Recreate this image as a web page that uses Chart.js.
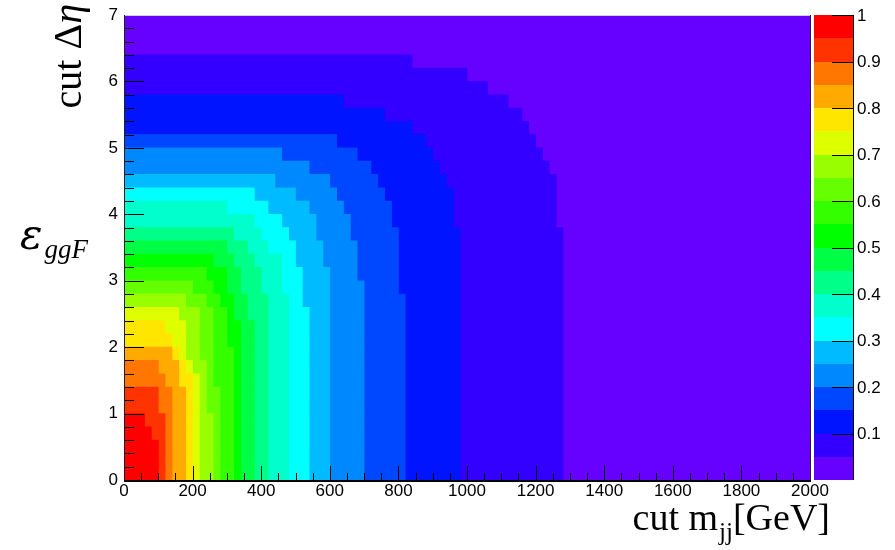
<!DOCTYPE html>
<html>
<head>
<meta charset="utf-8">
<script src="https://cdn.jsdelivr.net/npm/chart.js@4.4.1/dist/chart.umd.min.js"></script>
<style>
  html, body { margin: 0; padding: 0; background: #fff; }
  canvas { display: block; }
</style>
</head>
<body>
<canvas id="effMap" width="895" height="550"></canvas>
<script>
// centre of each cut-Δη bin (bins of 0.2, bottom row first)
const detaRows = [0.1, 0.3, 0.5, 0.7, 0.9, 1.1, 1.3, 1.5, 1.7, 1.9, 2.1, 2.3, 2.5, 2.7, 2.9, 3.1, 3.3, 3.5,
  3.7, 3.9, 4.1, 4.3, 4.5, 4.7, 4.9, 5.1, 5.3, 5.5, 5.7, 5.9, 6.1, 6.3, 6.5, 6.7, 6.9];

// cut m_jj range of the histogram (GeV)
const mjjRange = [0, 2000];

// contour levels of the efficiency and their colours
const zLevels = [0, 0.05, 0.1, 0.15, 0.2, 0.25, 0.3, 0.35, 0.4, 0.45, 0.5,
  0.55, 0.6, 0.65, 0.7, 0.75, 0.8, 0.85, 0.9, 0.95, 1];
const zTickLabels = ["0.1", "0.2", "0.3", "0.4", "0.5", "0.6", "0.7", "0.8", "0.9", "1"];
const palette = ["#6600ff", "#3300ff", "#0014ff", "#0048ff", "#0088ff", "#00bbff", "#00ffff", "#00ffcc",
  "#00ff88", "#00ff44", "#00ff00", "#33ff00", "#66ff00", "#99ff00", "#ddff00", "#ffe600",
  "#ffaa00", "#ff7700", "#ff3300", "#ff0000"];

// cut m_jj (GeV) up to which the efficiency stays above each level, one value per Δη row
const eff05 = [1280, 1280, 1280, 1280, 1280, 1280, 1280, 1280, 1280, 1280, 1280, 1280, 1280, 1280, 1280, 1280, 1280, 1280, 1280,
  1260, 1260, 1260, 1260, 1240, 1220, 1200, 1180, 1160, 1120, 1060, 1000, 840, 0, 0, 0];
const eff10 = [980, 980, 980, 980, 980, 980, 980, 980, 980, 980, 980, 980, 980, 980, 980, 980, 980, 980, 980,
  960, 960, 960, 940, 920, 900, 880, 840, 760, 640, 0, 0, 0, 0, 0, 0];
const eff15 = [820, 820, 820, 820, 820, 820, 820, 820, 820, 820, 820, 820, 820, 820, 800, 800, 800, 800, 800,
  780, 780, 760, 740, 720, 680, 620, 0, 0, 0, 0, 0, 0, 0, 0, 0];
const eff20 = [700, 700, 700, 700, 700, 700, 700, 700, 700, 700, 700, 700, 700, 700, 700, 680, 680, 680, 660,
  660, 640, 620, 600, 540, 460, 0, 0, 0, 0, 0, 0, 0, 0, 0, 0];
const eff25 = [600, 600, 600, 600, 600, 600, 600, 600, 600, 600, 600, 600, 600, 600, 600, 600, 580, 580, 560,
  560, 540, 500, 440, 0, 0, 0, 0, 0, 0, 0, 0, 0, 0, 0, 0];
const eff30 = [540, 540, 540, 540, 540, 540, 540, 540, 540, 540, 540, 540, 540, 520, 520, 520, 500, 500, 480,
  460, 420, 380, 0, 0, 0, 0, 0, 0, 0, 0, 0, 0, 0, 0, 0];
const eff35 = [480, 480, 480, 480, 480, 480, 480, 480, 480, 480, 480, 480, 480, 480, 460, 460, 460, 420, 400,
  380, 300, 0, 0, 0, 0, 0, 0, 0, 0, 0, 0, 0, 0, 0, 0];
const eff40 = [420, 420, 420, 420, 420, 420, 420, 420, 420, 420, 420, 420, 420, 420, 400, 400, 380, 360, 320,
  0, 0, 0, 0, 0, 0, 0, 0, 0, 0, 0, 0, 0, 0, 0, 0];
const eff45 = [380, 380, 380, 380, 380, 380, 380, 380, 380, 380, 380, 380, 360, 360, 340, 340, 320, 300, 0,
  0, 0, 0, 0, 0, 0, 0, 0, 0, 0, 0, 0, 0, 0, 0, 0];
const eff50 = [340, 340, 340, 340, 340, 340, 340, 340, 340, 340, 340, 340, 320, 320, 300, 300, 260, 0, 0,
  0, 0, 0, 0, 0, 0, 0, 0, 0, 0, 0, 0, 0, 0, 0, 0];
const eff55 = [320, 320, 320, 320, 320, 320, 320, 320, 320, 320, 300, 300, 300, 280, 260, 240, 0, 0, 0,
  0, 0, 0, 0, 0, 0, 0, 0, 0, 0, 0, 0, 0, 0, 0, 0];
const eff60 = [280, 280, 280, 280, 280, 280, 280, 260, 260, 260, 260, 260, 260, 240, 200, 0, 0, 0, 0,
  0, 0, 0, 0, 0, 0, 0, 0, 0, 0, 0, 0, 0, 0, 0, 0];
const eff65 = [260, 260, 260, 260, 260, 240, 240, 240, 240, 220, 220, 220, 220, 180, 0, 0, 0, 0, 0,
  0, 0, 0, 0, 0, 0, 0, 0, 0, 0, 0, 0, 0, 0, 0, 0];
const eff70 = [220, 220, 220, 220, 220, 220, 220, 220, 200, 180, 180, 180, 160, 0, 0, 0, 0, 0, 0,
  0, 0, 0, 0, 0, 0, 0, 0, 0, 0, 0, 0, 0, 0, 0, 0];
const eff75 = [200, 200, 200, 200, 200, 200, 200, 200, 180, 160, 140, 120, 0, 0, 0, 0, 0, 0, 0,
  0, 0, 0, 0, 0, 0, 0, 0, 0, 0, 0, 0, 0, 0, 0, 0];
const eff80 = [180, 180, 180, 180, 180, 180, 180, 160, 160, 140, 0, 0, 0, 0, 0, 0, 0, 0, 0,
  0, 0, 0, 0, 0, 0, 0, 0, 0, 0, 0, 0, 0, 0, 0, 0];
const eff85 = [140, 140, 140, 140, 140, 140, 140, 120, 100, 0, 0, 0, 0, 0, 0, 0, 0, 0, 0,
  0, 0, 0, 0, 0, 0, 0, 0, 0, 0, 0, 0, 0, 0, 0, 0];
const eff90 = [120, 120, 120, 120, 120, 100, 100, 0, 0, 0, 0, 0, 0, 0, 0, 0, 0, 0, 0,
  0, 0, 0, 0, 0, 0, 0, 0, 0, 0, 0, 0, 0, 0, 0, 0];
const eff95 = [100, 100, 100, 80, 60, 0, 0, 0, 0, 0, 0, 0, 0, 0, 0, 0, 0, 0, 0,
  0, 0, 0, 0, 0, 0, 0, 0, 0, 0, 0, 0, 0, 0, 0, 0];

// index = contour level (level 0 is the rest of the plane)
const levelReach = [null, eff05, eff10, eff15, eff20, eff25, eff30, eff35, eff40, eff45, eff50,
  eff55, eff60, eff65, eff70, eff75, eff80, eff85, eff90, eff95];

const barStyle = {
  barPercentage: 1,
  categoryPercentage: 1,
  grouped: false,
  borderWidth: 0,
  xAxisID: "x",
  yAxisID: "y",
};

// one floating-bar dataset per colour level, highest level drawn on top
const datasets = [
  {
    ...barStyle,
    data: detaRows.map((y) => ({ x: [mjjRange[0], mjjRange[1]], y })),
    backgroundColor: palette[0],
    order: 20,
  },
];
for (let k = 1; k < levelReach.length; k++) {
  const pts = [];
  levelReach[k].forEach((m, i) => {
    if (m > 0) pts.push({ x: [mjjRange[0], m], y: detaRows[i] });
  });
  datasets.push({ ...barStyle, data: pts, backgroundColor: palette[k], order: 20 - k });
}

const tickFont = { family: "'Liberation Sans', Arial, sans-serif", size: 17 };

// no extra layout padding from the axes, the plot box is fixed
const fixPad = (s) => {
  s.paddingTop = 0;
  s.paddingBottom = 0;
  s.paddingLeft = 0;
  s.paddingRight = 0;
};

// frame, inner tick marks, colour bar and the big titles
const decor = {
  id: "decor",
  afterDatasetsDraw(chart) {
    const { ctx, chartArea: a, scales } = chart;
    const xs = scales.x, ys = scales.y;
    ctx.save();
    ctx.strokeStyle = "#000";
    ctx.lineWidth = 1;
    ctx.beginPath();
    for (let i = 0; i <= 35; i++) {
      const py = Math.round(ys.getPixelForValue(i * 0.2)) + 0.5;
      const len = i % 5 === 0 ? 20 : 10;
      ctx.moveTo(a.left, py);
      ctx.lineTo(a.left + len, py);
    }
    for (let i = 0; i <= 40; i++) {
      const px = Math.round(xs.getPixelForValue(i * 50)) + 0.5;
      const len = i % 4 === 0 ? 14 : 7;
      ctx.moveTo(px, a.bottom);
      ctx.lineTo(px, a.bottom - len);
    }
    ctx.stroke();

    // frame
    ctx.strokeStyle = "#d0d0d0";
    ctx.beginPath();
    ctx.moveTo(a.left, a.top + 0.5);
    ctx.lineTo(a.right, a.top + 0.5);
    ctx.stroke();
    ctx.strokeStyle = "#222";
    ctx.beginPath();
    ctx.moveTo(a.right + 0.5, a.top);
    ctx.lineTo(a.right + 0.5, a.bottom);
    ctx.moveTo(a.left + 0.5, a.top);
    ctx.lineTo(a.left + 0.5, a.bottom);
    ctx.stroke();
    ctx.strokeStyle = "#000";
    ctx.lineWidth = 2;
    ctx.beginPath();
    ctx.moveTo(a.left, a.bottom + 1);
    ctx.lineTo(a.right + 1, a.bottom + 1);
    ctx.stroke();
    ctx.restore();
  },
  afterDraw(chart) {
    const { ctx, chartArea: a } = chart;
    ctx.save();

    // colour bar, same height as the plot, z from 0 to 1
    const barL = 814, barR = 853;
    const zMin = zLevels[0], zMax = zLevels[zLevels.length - 1];
    const zPix = (v) => a.bottom - ((v - zMin) / (zMax - zMin)) * (a.bottom - a.top);
    for (let k = 0; k < palette.length; k++) {
      const t = Math.round(zPix(zLevels[k + 1]));
      const b = Math.round(zPix(zLevels[k]));
      ctx.fillStyle = palette[k];
      ctx.fillRect(barL, t, barR - barL, b - t);
    }
    ctx.strokeStyle = "#000";
    ctx.lineWidth = 1;
    ctx.beginPath();
    ctx.moveTo(barR + 0.5, a.top);
    ctx.lineTo(barR + 0.5, a.bottom);
    zTickLabels.forEach((lab) => {
      const py = Math.round(zPix(Number(lab))) + 0.5;
      ctx.moveTo(barR - 21, py);
      ctx.lineTo(barR, py);
    });
    ctx.stroke();
    ctx.fillStyle = "#000";
    ctx.font = "17px 'Liberation Sans'";
    ctx.textAlign = "left";
    ctx.textBaseline = "middle";
    zTickLabels.forEach((lab) => {
      ctx.fillText(lab, 857, zPix(Number(lab)) + 1);
    });

    ctx.textBaseline = "alphabetic";

    // y title: cut Δη (rotated)
    ctx.save();
    ctx.translate(81, 4);
    ctx.rotate(-Math.PI / 2);
    ctx.textAlign = "left";
    ctx.font = "italic 40px 'Liberation Serif'";
    const wEta = ctx.measureText("η").width;
    ctx.font = "40px 'Liberation Serif'";
    const wCut = ctx.measureText("cut Δ").width;
    ctx.fillText("cut Δ", -(wCut + wEta), 0);
    ctx.font = "italic 40px 'Liberation Serif'";
    ctx.fillText("η", -wEta, 0);
    ctx.restore();

    // ε_ggF
    ctx.textAlign = "left";
    ctx.font = "italic 42px 'DejaVu Serif'";
    ctx.fillText("ε", 20, 249);
    const wEps = ctx.measureText("ε").width;
    ctx.font = "italic 27px 'Liberation Serif'";
    ctx.fillText("ggF", 20 + wEps + 2, 258);

    // x title: cut m_jj[GeV]
    ctx.font = "38px 'Liberation Serif'";
    const w1 = ctx.measureText("cut m").width;
    const w3 = ctx.measureText("[GeV]").width;
    ctx.font = "25px 'Liberation Serif'";
    const w2 = ctx.measureText("jj").width;
    const x0 = 829 - (w1 + w2 + w3);
    ctx.font = "38px 'Liberation Serif'";
    ctx.fillText("cut m", x0, 530);
    ctx.fillText("[GeV]", x0 + w1 + w2 + 1, 530);
    ctx.font = "25px 'Liberation Serif'";
    ctx.fillText("jj", x0 + w1 + 1, 540);
    ctx.restore();
  },
};

const ctx = document.getElementById("effMap").getContext("2d");

new Chart(ctx, {
  type: "bar",
  data: { datasets },
  options: {
    indexAxis: "y",
    responsive: false,
    animation: false,
    events: [],
    layout: { padding: { top: 15, left: 0, right: 85, bottom: 0 } },
    plugins: {
      legend: { display: false },
      tooltip: { enabled: false },
    },
    scales: {
      x: {
        type: "linear",
        position: "bottom",
        min: mjjRange[0],
        max: mjjRange[1],
        offset: false,
        grid: { display: false, drawTicks: false },
        border: { display: false },
        ticks: {
          stepSize: 200,
          padding: 1,
          maxRotation: 0,
          autoSkip: false,
          color: "#000",
          font: tickFont,
          callback: (v) => String(v),
        },
        afterFit: (s) => { s.height = 70; fixPad(s); },
      },
      y: {
        type: "linear",
        position: "left",
        min: 0,
        max: 7,
        offset: false,
        grid: { display: false, drawTicks: false },
        border: { display: false },
        ticks: {
          stepSize: 1,
          padding: 6,
          autoSkip: false,
          color: "#000",
          font: tickFont,
          callback: (v) => String(v),
        },
        afterFit: (s) => { s.width = 124; fixPad(s); },
      },
    },
  },
  plugins: [decor],
});
</script>
</body>
</html>
